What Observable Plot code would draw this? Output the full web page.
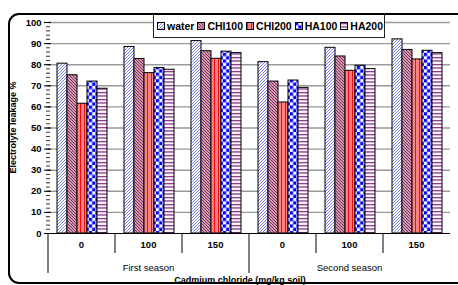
<!DOCTYPE html>
<html><head><meta charset="utf-8">
<script src="https://cdn.jsdelivr.net/npm/d3@7"></script>
<script src="https://cdn.jsdelivr.net/npm/@observablehq/plot@0.6"></script>
<style>
body{margin:0;background:#fff;font-family:"Liberation Sans",Arial,sans-serif;}
#wrap{position:relative;width:458px;height:285px;overflow:hidden;}
#chart{position:absolute;left:0;top:0;}
#border{position:absolute;left:8px;top:13px;width:460px;height:271px;border:2px solid #000;border-radius:11px;box-sizing:border-box;pointer-events:none;}
#legend{position:absolute;left:153px;top:14px;width:232px;height:24px;background:#fff;border:1px solid #222;box-sizing:border-box;display:flex;align-items:center;font-weight:bold;font-size:10.5px;color:#000;}
#legend .it{display:flex;align-items:center;margin-left:3px;}
#legend svg{margin-right:2px;}
</style></head>
<body>
<div id="wrap">
<svg width="0" height="0" style="position:absolute">
<defs>
<pattern id="p-water" patternUnits="userSpaceOnUse" width="3" height="3">
<rect width="3" height="3" fill="#fff"/>
<path d="M-1,1L1,-1M0,3L3,0M2,4L4,2" stroke="#7070f0" stroke-width="0.9"/>
</pattern>
<pattern id="p-CHI100" patternUnits="userSpaceOnUse" width="3" height="3">
<rect width="3" height="3" fill="#fff"/>
<path d="M-1,2L1,4M0,0L3,3M2,-1L4,1" stroke="#8a2858" stroke-width="1.3"/>
</pattern>
<pattern id="p-CHI200" patternUnits="userSpaceOnUse" width="4" height="4">
<rect width="4" height="4" fill="#ff8080"/>
<rect x="1" width="1" height="4" fill="#e81010"/>
</pattern>
<pattern id="p-HA100" patternUnits="userSpaceOnUse" width="6.6" height="6.6">
<rect width="6.6" height="6.6" fill="#fff"/>
<rect width="3.3" height="3.3" fill="#0000ff"/>
<rect x="3.3" y="3.3" width="3.3" height="3.3" fill="#0000ff"/>
</pattern>
<pattern id="p-HA200" patternUnits="userSpaceOnUse" width="4" height="3.5">
<rect width="4" height="3.5" fill="#fff"/>
<rect y="1" width="4" height="1.1" fill="#700070"/>
</pattern>
</defs>
</svg>
<div id="chart"></div>
<div id="legend"></div>
<div id="border"></div>
</div>
<script>
const seasons = ["First season", "Second season"];
const doses = ["0", "100", "150"];
const series = ["water", "CHI100", "CHI200", "HA100", "HA200"];
// values per group: First season 0,100,150 then Second season 0,100,150
const water  = [80.5, 88.4, 91.2, 81.2, 88.0, 92.0];
const chi100 = [75.0, 82.7, 86.4, 72.0, 83.9, 87.0];
const chi200 = [61.5, 76.0, 82.8, 62.1, 77.1, 82.5];
const ha100  = [72.0, 78.4, 86.2, 72.5, 79.5, 86.6];
const ha200  = [68.6, 77.6, 85.5, 69.0, 77.9, 85.5];
const yTicks = [0, 10, 20, 30, 40, 50, 60, 70, 80, 90, 100];
const yLabel = "Electrolyte leakage %";
const xLabel = "Cadmium chloride (mg/kg soil)";

const valuesBySeries = {water, CHI100: chi100, CHI200: chi200, HA100: ha100, HA200: ha200};
const keys = [];
seasons.forEach(s => doses.forEach(d => keys.push(s + "|" + d)));
const data = [];
keys.forEach((k, i) => series.forEach(s => data.push({key: k, series: s, value: valuesBySeries[s][i]})));
const minor = d3.range(0, 101, 2);

const plot = Plot.plot({
  width: 458, height: 285,
  marginLeft: 45, marginRight: 6, marginTop: 22, marginBottom: 52,
  style: {fontFamily: "Liberation Sans, Arial, sans-serif", fontSize: "9.5px", fontWeight: "bold", background: "transparent", overflow: "visible", color: "#000"},
  fx: {domain: keys, padding: 0, axis: null},
  x: {domain: series, paddingInner: 0, paddingOuter: 0.76, axis: null},
  y: {domain: [0, 100], axis: null},
  color: {domain: series, range: series.map(s => `url(#p-${s})`)},
  marks: [
    Plot.gridY(yTicks.slice(1), {stroke: "#9a9a9a", strokeOpacity: 1, strokeWidth: 1.4}),
    Plot.barY(data, {fx: "key", x: "series", y: "value", fill: "series", stroke: "#000", strokeWidth: 1}),
    Plot.ruleY([0], {stroke: "#000", strokeWidth: 1.2}),
    Plot.axisY({ticks: minor, tickSize: 4, dx: 2, tickFormat: () => "", label: null, strokeWidth: 0.8}),
    Plot.axisY({ticks: yTicks, tickSize: 7, dx: 3, tickPadding: 3, label: null, line: true, strokeWidth: 1})
  ]
});
document.getElementById("chart").appendChild(plot);

// axis extras using the plot's scales
const fx = plot.scale("fx");
const y = plot.scale("y");
const bw = fx.bandwidth;
const y0 = y.apply(0);
const svg = d3.select(plot);
const g = svg.append("g").attr("fill", "#000").attr("font-family", "Liberation Sans, Arial, sans-serif").attr("font-weight", "bold");
keys.forEach((k, i) => {
  const x0 = fx.apply(k);
  const long = i % 3 === 0;
  g.append("line").attr("x1", x0).attr("x2", x0).attr("y1", y0).attr("y2", long ? y0 + 40 : y0 + 20).attr("stroke", "#000").attr("stroke-width", 1);
  g.append("text").attr("x", x0 + bw / 2).attr("y", y0 + 15).attr("text-anchor", "middle").attr("font-size", 9.5).text(k.split("|")[1]);
});
seasons.forEach((s, j) => {
  const a = fx.apply(keys[j * 3]);
  const b = fx.apply(keys[j * 3 + 2]) + bw;
  g.append("text").attr("x", (a + b) / 2).attr("y", y0 + 38).attr("text-anchor", "middle").attr("font-size", 9.5).attr("font-weight", "normal").text(s);
});
g.append("text").attr("x", 240).attr("y", y0 + 50).attr("text-anchor", "middle").attr("font-size", 9).text(xLabel);
g.append("text").attr("transform", `translate(16,${(y0 + y.apply(100)) / 2}) rotate(-90)`).attr("text-anchor", "middle").attr("font-size", 9).text(yLabel);

// legend
const leg = document.getElementById("legend");
series.forEach(s => {
  const it = document.createElement("div");
  it.className = "it";
  it.innerHTML = `<svg width="8" height="8"><rect x="0.5" y="0.5" width="7" height="7" fill="url(#p-${s})" stroke="#000"/></svg><span>${s}</span>`;
  leg.appendChild(it);
});
</script>
</body></html>
